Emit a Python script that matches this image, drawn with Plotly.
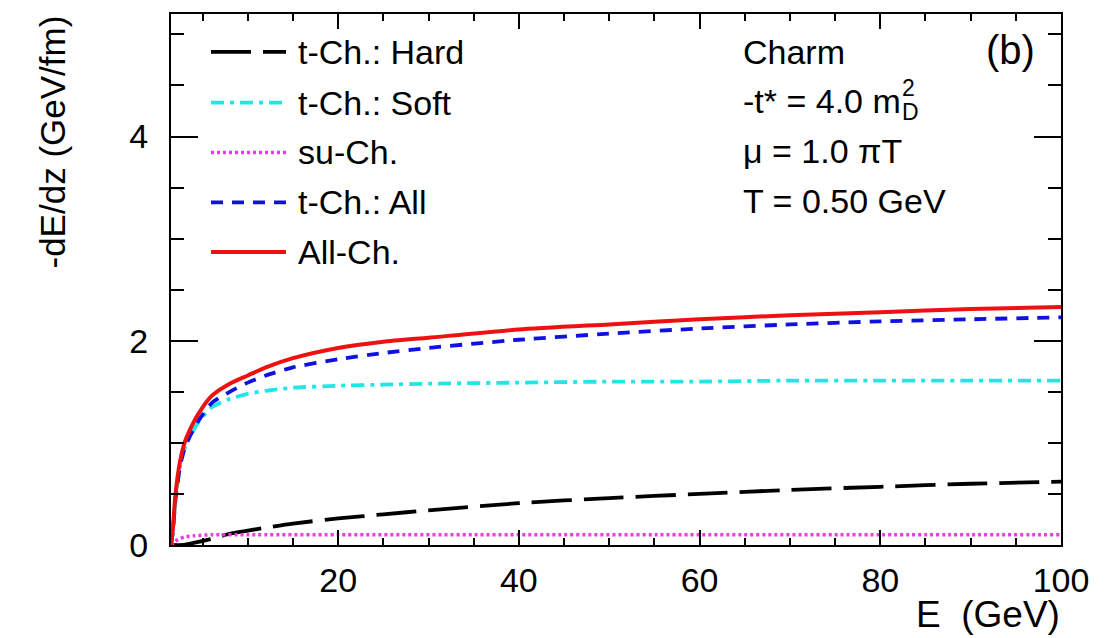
import plotly.graph_objects as go

# ---- data ----
E = [1.5, 1.7, 2.0, 2.5, 3.0, 3.5, 4.5, 6, 8, 10, 12, 15, 20, 25, 30, 40, 50, 60, 70, 80, 90, 100]
all_ch = [0.0, 0.15, 0.50, 0.82, 1.00, 1.11, 1.28, 1.46, 1.58, 1.66, 1.74, 1.83, 1.93, 1.99, 2.03, 2.11, 2.16, 2.21, 2.25, 2.28, 2.31, 2.33]
t_all = [0.0, 0.13, 0.45, 0.77, 0.95, 1.05, 1.21, 1.39, 1.50, 1.59, 1.66, 1.74, 1.82, 1.88, 1.93, 2.01, 2.07, 2.12, 2.16, 2.19, 2.21, 2.23]
t_soft = [0.0, 0.13, 0.45, 0.77, 0.94, 1.04, 1.20, 1.35, 1.43, 1.48, 1.51, 1.54, 1.56, 1.57, 1.58, 1.59, 1.60, 1.60, 1.61, 1.61, 1.61, 1.61]
E_hard = [1.5, 2.8, 4, 6, 8, 10, 12, 15, 20, 25, 30, 40, 50, 60, 70, 80, 90, 100]
t_hard = [0.0, 0.0, 0.02, 0.06, 0.11, 0.14, 0.17, 0.21, 0.26, 0.30, 0.34, 0.41, 0.46, 0.50, 0.54, 0.57, 0.60, 0.62]
E_su = [1.5, 2.0, 3.0, 4.0, 6, 10, 20, 40, 60, 80, 100]
su_ch = [0.0, 0.04, 0.08, 0.09, 0.10, 0.10, 0.10, 0.10, 0.10, 0.10, 0.10]

labels = ["t-Ch.: Hard", "t-Ch.: Soft", "su-Ch.", "t-Ch.: All", "All-Ch."]
info_lines = ["Charm", "-t* = 4.0 m", "\u03bc = 1.0 \u03c0T", "T = 0.50 GeV"]

FONT = "Liberation Sans, Arial, sans-serif"
W, H = 1110, 638
L, R, T, B = 171, 49, 12, 93
pw, ph = W - L - R, H - T - B

def px2x(px):
    return (px - L) / pw

def py2y(py):
    return (H - B - py) / ph

styles = [
    dict(color="black", width=3.8, dash="40px,12px"),
    dict(color="#22e5e5", width=3.8, dash="13px,6px,4px,6px"),
    dict(color="#e83ce8", width=3.5, dash="3px,3px"),
    dict(color="#1010e0", width=3.8, dash="12px,9px"),
    dict(color="#ee1111", width=4, dash="solid"),
]
series = [(E_hard, t_hard), (E, t_soft), (E_su, su_ch), (E, t_all), (E, all_ch)]

fig = go.Figure()
for (xs, ys), st, name in zip(series, styles, labels):
    fig.add_trace(go.Scatter(x=xs, y=ys, mode="lines", name=name,
                             line=dict(color=st["color"], width=st["width"], dash=st["dash"], shape="spline", smoothing=0.6)))

TXT = 34
shapes = []
annotations = []
rows = [50, 101, 151, 201, 251]
for st, lab, yy in zip(styles, labels, rows):
    shapes.append(dict(type="line", xref="paper", yref="paper",
                       x0=px2x(211), x1=px2x(286), y0=py2y(yy), y1=py2y(yy),
                       line=dict(color=st["color"], width=st["width"], dash=st["dash"])))
    annotations.append(dict(xref="paper", yref="paper", x=px2x(296), y=py2y(yy),
                            text=lab, showarrow=False, xanchor="left", yanchor="middle",
                            font=dict(family=FONT, size=TXT, color="black")))

info_y = [50, 99, 150, 200]
for txt, yy in zip(info_lines, info_y):
    annotations.append(dict(xref="paper", yref="paper", x=px2x(741), y=py2y(yy),
                            text=txt, showarrow=False, xanchor="left", yanchor="middle",
                            font=dict(family=FONT, size=TXT, color="black")))
annotations.append(dict(xref="paper", yref="paper", x=px2x(900), y=py2y(86), text="2",
                        showarrow=False, xanchor="left", yanchor="middle",
                        font=dict(family=FONT, size=23, color="black")))
annotations.append(dict(xref="paper", yref="paper", x=px2x(900), y=py2y(110), text="D",
                        showarrow=False, xanchor="left", yanchor="middle",
                        font=dict(family=FONT, size=23, color="black")))
annotations.append(dict(xref="paper", yref="paper", x=px2x(1037), y=py2y(48), text="(b)",
                        showarrow=False, xanchor="right", yanchor="middle",
                        font=dict(family=FONT, size=40, color="black")))
# axis titles
annotations.append(dict(xref="paper", yref="paper", x=px2x(1062), y=py2y(615), text="E  (GeV)",
                        showarrow=False, xanchor="right", yanchor="middle",
                        font=dict(family=FONT, size=37, color="black")))
annotations.append(dict(xref="paper", yref="paper", x=px2x(52), y=py2y(12), text="-dE/dz (GeV/fm)",
                        showarrow=False, xanchor="center", yanchor="top", textangle=-90,
                        font=dict(family=FONT, size=35, color="black")))

fig.update_layout(
    width=W, height=H,
    margin=dict(l=L, r=R, t=T, b=B, pad=0),
    paper_bgcolor="white", plot_bgcolor="white",
    showlegend=False,
    shapes=shapes, annotations=annotations,
    font=dict(family=FONT, size=TXT, color="black"),
)
fig.update_xaxes(range=[1.5, 100], tickvals=[20, 40, 60, 80, 100], ticks="inside", ticklen=15,
                 tickwidth=1.5, tickcolor="black", showgrid=False, zeroline=False,
                 showline=True, linecolor="black", linewidth=2, mirror="allticks",
                 minor=dict(ticks="inside", ticklen=7, tickwidth=1.5, tickcolor="black", dtick=5, tick0=0, showgrid=False),
                 ticklabelstandoff=4, tickfont=dict(family=FONT, size=TXT, color="black"))
fig.update_yaxes(range=[0, 5.2], tickvals=[0, 2, 4], ticks="inside", ticklen=27,
                 tickwidth=1.5, tickcolor="black", showgrid=False, zeroline=False,
                 showline=True, linecolor="black", linewidth=2, mirror="allticks",
                 minor=dict(ticks="inside", ticklen=13, tickwidth=1.5, tickcolor="black", dtick=0.5, tick0=0, showgrid=False),
                 ticklabelstandoff=14, tickfont=dict(family=FONT, size=TXT, color="black"))

fig.write_html("out.html")
